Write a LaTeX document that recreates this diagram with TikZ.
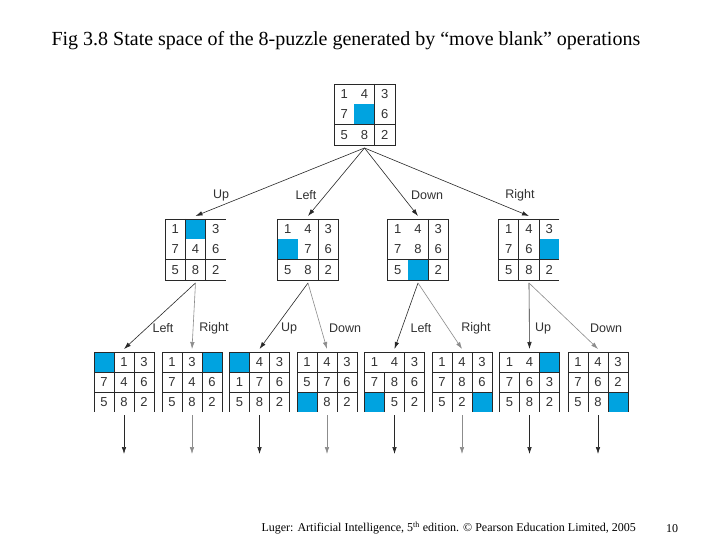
\documentclass[tikz,border=0pt]{standalone}
\usepackage{fontspec}
\setmainfont{Liberation Serif}
\newfontfamily\hv{Liberation Sans}
\usetikzlibrary{arrows.meta}
\definecolor{blankc}{RGB}{0,163,224}
\definecolor{ink}{RGB}{40,40,40}
\definecolor{txt}{RGB}{50,50,50}
\tikzset{
  board/.style={rectangle, inner sep=0pt, outer sep=3pt},
  grid line/.style={draw=ink, line width=0.8pt},
  dig/.style={font=\hv\fontsize{13}{13}\selectfont, text=txt, inner sep=0pt},
  mv/.style={font=\hv\fontsize{12.5}{13}\selectfont, text=txt, inner sep=0pt},
  arr/.style={draw=ink, line width=0.6pt, -{Latex[length=7pt,width=4.5pt]}},
  arrl/.style={arr, draw=black!45},
}
% #1 name, #2 x0, #3 y0, #4 cell size, #5 blank col, #6 blank row, #7 digits, #8 lines
\newcommand\puzzle[8]{%
  \begin{scope}[shift={(#2,#3)}, x=#4pt, y=-#4pt]
    \node[board, minimum width=3*#4pt, minimum height=3*#4pt] (#1) at (1.5,1.5) {};
    \fill[blankc] (#5,#6) rectangle ++(1,1);
    \foreach \v [count=\k from 0] in {#7} {
      \ifnum\v=0 \else
        \pgfmathtruncatemacro\rr{\k/3}%
        \pgfmathtruncatemacro\cc{mod(\k,3)}%
        \node[dig] (#1-\k) at (\cc+.5,\rr+.5) {\v};
      \fi
    }
    \draw[grid line] #8;
  \end{scope}}
\newcommand\lowlines{(0,0)--(3,0) (0,0)--(0,3) (1,0)--(1,3) (2,0)--(2,3) (3,0)--(3,3) (0,1)--(3,1) (0,2)--(3,2)}
\newcommand\lowlinesb{(0,0)--(3,0) (0,0)--(0,3) (1,1)--(1,3) (2,0)--(2,3) (3,0)--(3,3) (0,1)--(3,1) (0,2)--(3,2)}
\begin{document}
\begin{tikzpicture}[x=1pt, y=-1pt]
  \useasboundingbox (0,0) rectangle (720,540);
  \fill[white] (0,0) rectangle (720,540);

  \node[anchor=west, font=\fontsize{20}{22}\selectfont] (title) at (48,41)
    {Fig 3.8 State space of the 8-puzzle generated by “move blank” operations};

  % root
  \puzzle{root}{334}{84}{20.33}{1}{1}{1,4,3,7,0,6,5,8,2}{(0,0) rectangle (3,3) (2,0)--(2,3) (0,2)--(3,2)}
  % level 1
  \puzzle{A}{165}{219}{20.33}{1}{0}{1,0,3,7,4,6,5,8,2}{(3,0)--(0,0)--(0,3)--(3,3) (1,0)--(1,3) (2,0)--(2,3) (0,2)--(3,2)}
  \puzzle{B}{277.5}{219}{20.33}{0}{1}{1,4,3,0,7,6,5,8,2}{(0,0) rectangle (3,3) (2,0)--(2,3) (0,2)--(3,2)}
  \puzzle{C}{387.5}{219}{20.33}{1}{2}{1,4,3,7,8,6,5,0,2}{(0,0) rectangle (3,3) (2,0)--(2,3) (0,2)--(3,2)}
  \puzzle{D}{498.5}{219}{20.33}{2}{1}{1,4,3,7,6,0,5,8,2}{(3,0)--(0,0)--(0,3)--(3,3) (1,0)--(1,3) (2,0)--(2,3) (0,2)--(3,2)}
  % level 2
  \puzzle{p1}{94}{352}{20}{0}{0}{0,1,3,7,4,6,5,8,2}{\lowlines}
  \puzzle{p2}{162}{352}{20}{2}{0}{1,3,0,7,4,6,5,8,2}{\lowlines}
  \puzzle{p3}{229.5}{352}{20}{0}{0}{0,4,3,1,7,6,5,8,2}{\lowlines}
  \puzzle{p4}{297}{352}{20}{0}{2}{1,4,3,5,7,6,0,8,2}{\lowlines}
  \puzzle{p5}{364.5}{352}{20}{0}{2}{1,4,3,7,8,6,0,5,2}{\lowlinesb}
  \puzzle{p6}{432}{352}{20}{2}{2}{1,4,3,7,8,6,5,2,0}{\lowlines}
  \puzzle{p7}{499.5}{352}{20}{2}{0}{1,4,0,7,6,3,5,8,2}{\lowlinesb}
  \puzzle{p8}{568}{352}{20}{2}{2}{1,4,3,7,6,2,5,8,0}{\lowlines}

  % move labels
  \node[mv] (lA) at (221,195) {Up};
  \node[mv] (lB) at (306,195) {Left};
  \node[mv] (lC) at (427,195) {Down};
  \node[mv] (lD) at (520,195) {Right};
  \node[mv] (l1) at (163,328) {Left};
  \node[mv] (l2) at (214,328) {Right};
  \node[mv] (l3) at (289,328) {Up};
  \node[mv] (l4) at (345,328) {Down};
  \node[mv] (l5) at (421,328) {Left};
  \node[mv] (l6) at (476,328) {Right};
  \node[mv] (l7) at (543,328) {Up};
  \node[mv] (l8) at (606,328) {Down};

  % arrows
  \draw[arr] (root.south) -- (A.north);
  \draw[arr] (root.south) -- (B.north);
  \draw[arr] (root.south) -- (C.north);
  \draw[arr] (root.south) -- (D.north);
  \draw[arr]  (A.south) -- (p1.north);
  \draw[arrl] (A.south) -- (p2.north);
  \draw[arr]  (B.south) -- (p3.north);
  \draw[arrl] (B.south) -- (p4.north);
  \draw[arr]  (C.south) -- (p5.north);
  \draw[arrl] (C.south) -- (p6.north);
  \draw[arr]  (D.south) -- (p7.north);
  \draw[arrl] (D.south) -- (p8.north);

  \foreach \n/\x in {1/124, 2/192, 3/259.5, 4/327, 5/394.5, 6/462, 7/529.5, 8/598} {
    \coordinate (e\n) at (\x,454);
  }
  \draw[arr]  (p1.south) -- (e1);
  \draw[arrl] (p2.south) -- (e2);
  \draw[arr]  (p3.south) -- (e3);
  \draw[arrl] (p4.south) -- (e4);
  \draw[arr]  (p5.south) -- (e5);
  \draw[arrl] (p6.south) -- (e6);
  \draw[arr]  (p7.south) -- (e7);
  \draw[arr]  (p8.south) -- (e8);

  \node[anchor=west, font=\fontsize{12}{13}\selectfont] (foot) at (258,528)
    {Luger: Artificial Intelligence, 5\textsuperscript{th} edition. © Pearson Education Limited, 2005};
  \node[font=\fontsize{12}{12}\selectfont] (page) at (672,529) {10};
\end{tikzpicture}
\end{document}
